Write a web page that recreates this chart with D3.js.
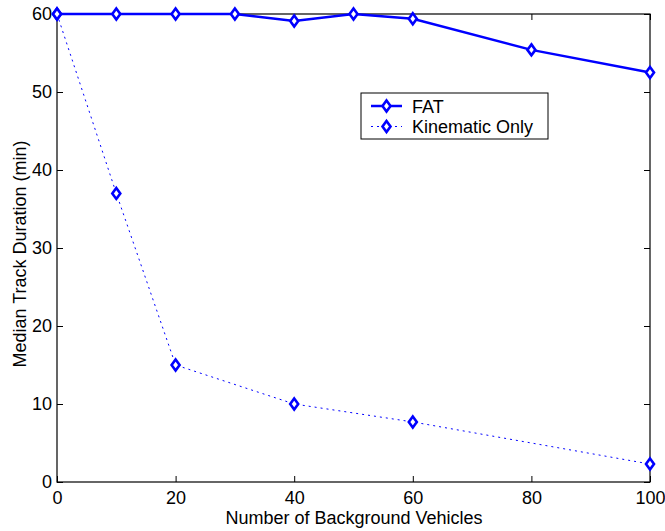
<!DOCTYPE html>
<html>
<head>
<meta charset="utf-8">
<script src="https://cdn.jsdelivr.net/npm/d3@7"></script>
<style>
  body { margin: 0; background: #fff; }
  svg { font-family: "Liberation Sans", Arial, sans-serif; }
</style>
</head>
<body>
<svg id="chart" width="665" height="531"></svg>
<script>
const vehicles = [0, 10, 20, 30, 40, 50, 60, 80, 100]
const fat = [60, 60, 60, 60, 59.1, 60, 59.4, 55.4, 52.5]
const kinX = [0, 10, 20, 40, 60, 100]
const kinematic = [60, 37, 15, 10, 7.7, 2.3]
const xTicks = [0, 20, 40, 60, 80, 100]
const yTicks = [0, 10, 20, 30, 40, 50, 60]

const marginLeft = 57
const marginRight = 15
const marginTop = 14
const marginBottom = 49
const W = 665, H = 531
const width = W - marginLeft - marginRight
const height = H - marginTop - marginBottom

const svg = d3.select('#chart')
const g = svg.append('g').attr('transform', `translate(${marginLeft},${marginTop})`)

const x = d3.scaleLinear().domain([0, 100]).range([0, width])
const y = d3.scaleLinear().domain([0, 60]).range([height, 0])

// frame
g.append('rect')
  .attr('width', width).attr('height', height)
  .attr('fill', 'none').attr('stroke', '#000').attr('stroke-width', 1.2)

// axes (ticks point inward)
const fontSize = 18
g.append('g').attr('transform', `translate(0,${height})`)
  .call(d3.axisBottom(x).tickValues(xTicks).tickSize(-6).tickPadding(9).tickSizeOuter(0))
  .call(a => a.select('.domain').remove())
  .selectAll('text').attr('font-size', fontSize).attr('fill', '#000')
g.append('g')
  .call(d3.axisTop(x).tickValues(xTicks).tickSize(-6).tickFormat('').tickSizeOuter(0))
  .call(a => a.select('.domain').remove())
g.append('g')
  .call(d3.axisLeft(y).tickValues(yTicks).tickSize(-6).tickPadding(5).tickSizeOuter(0))
  .call(a => a.select('.domain').remove())
  .selectAll('text').attr('font-size', fontSize).attr('fill', '#000')
g.append('g').attr('transform', `translate(${width},0)`)
  .call(d3.axisRight(y).tickValues(yTicks).tickSize(-6).tickFormat('').tickSizeOuter(0))
  .call(a => a.select('.domain').remove())
g.selectAll('.tick line').attr('stroke', '#000')

const blue = '#0000ff'
// matlab style diamond, a bit taller than wide
const diamond = (hw, hh) => `M0,${-hh}L${hw},0L0,${hh}L${-hw},0Z`
const markerPath = diamond(4, 5.5)

// kinematic only (dotted)
g.append('path')
  .datum(kinX.map((d, i) => [d, kinematic[i]]))
  .attr('fill', 'none').attr('stroke', blue).attr('stroke-width', 1)
  .attr('stroke-dasharray', '2,4')
  .attr('d', d3.line().x(d => x(d[0])).y(d => y(d[1])))

// FAT (solid)
g.append('path')
  .datum(vehicles.map((d, i) => [d, fat[i]]))
  .attr('fill', 'none').attr('stroke', blue).attr('stroke-width', 2.5)
  .attr('d', d3.line().x(d => x(d[0])).y(d => y(d[1])))

function markers(xs, ys) {
  g.append('g').selectAll('path')
    .data(xs.map((d, i) => [d, ys[i]]))
    .join('path')
    .attr('d', markerPath)
    .attr('transform', d => `translate(${x(d[0])},${y(d[1])})`)
    .attr('fill', '#fff').attr('stroke', blue).attr('stroke-width', 2.6)
}
markers(kinX, kinematic)
markers(vehicles, fat)

// legend
const leg = svg.append('g').attr('transform', 'translate(361,93)')
leg.append('rect').attr('width', 187).attr('height', 46)
  .attr('fill', '#fff').attr('stroke', '#000').attr('stroke-width', 1)
const items = [
  { label: 'FAT', dash: null, w: 2.5 },
  { label: 'Kinematic Only', dash: '2,4', w: 1 }
]
items.forEach((it, i) => {
  const yy = 13 + i * 20.5
  leg.append('line').attr('x1', 10).attr('x2', 41).attr('y1', yy).attr('y2', yy)
    .attr('stroke', blue).attr('stroke-width', it.w)
    .attr('stroke-dasharray', it.dash)
  leg.append('path').attr('d', markerPath)
    .attr('transform', `translate(25.5,${yy})`)
    .attr('fill', '#fff').attr('stroke', blue).attr('stroke-width', 2.6)
  leg.append('text').attr('x', 51).attr('y', yy + 6.5)
    .attr('font-size', 18).text(it.label)
})

// axis titles
svg.append('text')
  .attr('x', 354).attr('y', 523.5)
  .attr('text-anchor', 'middle').attr('font-size', 18)
  .text('Number of Background Vehicles')
svg.append('text')
  .attr('transform', `translate(26,254) rotate(-90)`)
  .attr('text-anchor', 'middle').attr('font-size', 18)
  .text('Median Track Duration (min)')
</script>
</body>
</html>
